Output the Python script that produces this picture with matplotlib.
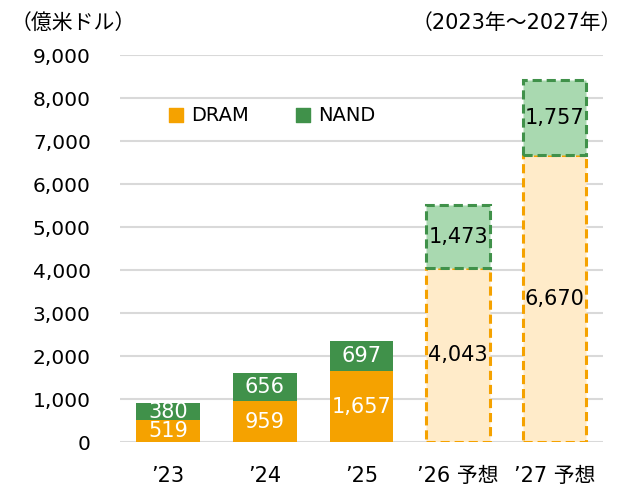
import matplotlib.pyplot as plt
import numpy as np

plt.rcParams['font.family'] = ['DejaVu Sans', 'Noto Sans CJK JP']

# data
years = ['’23', '’24', '’25', '’26 予想', '’27 予想']
dram = [519, 959, 1657, 4043, 6670]
nand = [380, 656, 697, 1473, 1757]
forecast = [False, False, False, True, True]

ORANGE = '#F5A200'
GREEN = '#40914A'
LIGHT_ORANGE = '#FFEBC9'
LIGHT_GREEN = '#A9D9B0'

fig = plt.figure(figsize=(6.28, 4.88), dpi=100)
ax = fig.add_axes([0.191, 0.094, 0.769, 0.793])

x = np.arange(len(years))
w = 0.66
for i in x:
    if forecast[i]:
        ax.bar(i, dram[i], w, color=LIGHT_ORANGE, edgecolor=ORANGE,
               linestyle=(0, (3, 1.6)), linewidth=2.2, zorder=3)
        ax.bar(i, nand[i], w, bottom=dram[i], color=LIGHT_GREEN, edgecolor=GREEN,
               linestyle=(0, (3, 1.6)), linewidth=2.2, zorder=3)
        tc = 'black'
    else:
        ax.bar(i, dram[i], w, color=ORANGE, zorder=3)
        ax.bar(i, nand[i], w, bottom=dram[i], color=GREEN, zorder=3)
        tc = 'white'
    ax.text(i, dram[i] / 2, f'{dram[i]:,}', ha='center', va='center',
            color=tc, fontsize=15, zorder=4)
    ax.text(i, dram[i] + nand[i] / 2, f'{nand[i]:,}', ha='center', va='center',
            color=tc, fontsize=15, zorder=4)

ax.set_xlim(-0.5, 4.5)
ax.set_ylim(0, 9000)
ax.set_yticks(np.arange(0, 9001, 1000))
ax.set_yticklabels([f'{v:,}' for v in range(0, 9001, 1000)])
ax.set_xticks(x)
ax.set_xticklabels(years)
ax.tick_params(axis='y', length=0, labelsize=14.5, pad=21)
ax.tick_params(axis='x', length=0, labelsize=15, pad=17)
ax.grid(axis='y', color='#D9D9D9', linewidth=1.5, zorder=0)
for s in ax.spines.values():
    s.set_visible(False)

# legend
h1 = ax.scatter([], [], marker='s', s=110, color=ORANGE)
h2 = ax.scatter([], [], marker='s', s=110, color=GREEN)
ax.legend([h1, h2], ['DRAM', 'NAND'], ncol=2, frameon=False, fontsize=14,
          loc='upper left', bbox_to_anchor=(0.06, 0.915), handlelength=1.0,
          handletextpad=0.27, columnspacing=2.3)

fig.text(0.016, 0.953, '（億米ドル）', fontsize=15, va='center')
fig.text(0.99, 0.953, '（2023年～2027年）', fontsize=15, va='center', ha='right')

fig.savefig('out.png', dpi=100)
